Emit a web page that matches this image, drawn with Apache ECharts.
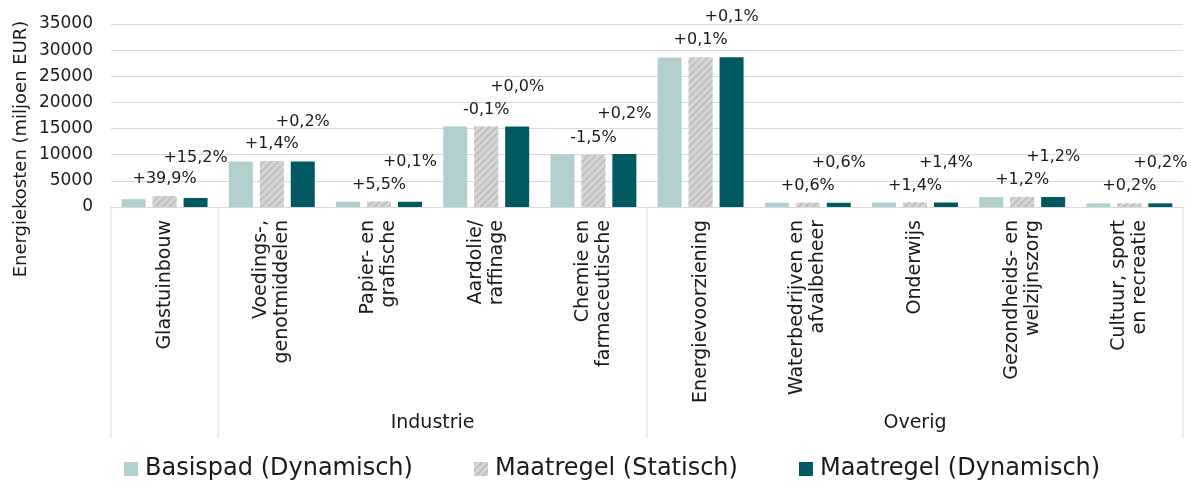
<!DOCTYPE html>
<html>
<head>
<meta charset="utf-8">
<script src="https://cdn.jsdelivr.net/npm/echarts@6/dist/echarts.min.js"></script>
<style>
html,body{margin:0;padding:0;background:#fff;}
#chart{width:1191px;height:482px;}
</style>
</head>
<body>
<div id="chart"></div>
<script>
const categories = ['Glastuinbouw','Voedings-,\ngenotmiddelen','Papier- en\ngrafische','Aardolie/\nraffinage','Chemie en\nfarmaceutische','Energievoorziening','Waterbedrijven en\nafvalbeheer','Onderwijs','Gezondheids- en\nwelzijnszorg','Cultuur, sport\nen recreatie'];
const basispad = [1500, 8700, 1000, 15400, 10100, 28600, 800, 850, 1900, 700];
const statisch = [2100, 8820, 1055, 15385, 9950, 28630, 805, 862, 1923, 701];
const dynamisch = [1728, 8717, 1001, 15400, 10120, 28630, 805, 862, 1923, 701];
const statLabels = ['+39,9%','+1,4%','+5,5%','-0,1%','-1,5%','+0,1%','+0,6%','+1,4%','+1,2%','+0,2%'];
const dynLabels = ['+15,2%','+0,2%','+0,1%','+0,0%','+0,2%','+0,1%','+0,6%','+1,4%','+1,2%','+0,2%'];
const groupNames = ['', 'Industrie', 'Overig'];
const groupSizes = [1, 4, 5];
const seriesNames = ['Basispad (Dynamisch)', 'Maatregel (Statisch)', 'Maatregel (Dynamisch)'];
const yTicks = [0, 35000, 5000];
const yAxisTitle = 'Energiekosten (miljoen EUR)';

const FONT = 'DejaVu Sans';
const TXT = '#1a1a1a';
const chart = echarts.init(document.getElementById('chart'), null, {renderer: 'canvas'});

const option = {
  animation: false,
  textStyle: {fontFamily: FONT},
  grid: {left: 111, right: 8, top: 24, bottom: 275, containLabel: false},
  legend: {
    left: 119, top: 452, icon: 'rect',
    itemWidth: 14, itemHeight: 14, itemGap: 61,
    textStyle: {fontFamily: FONT, fontSize: 24, color: TXT, padding: [0, 0, 0, 2]},
    data: seriesNames
  },
  xAxis: {
    type: 'category',
    data: categories,
    axisLine: {show: true, lineStyle: {color: '#d9d9d9', width: 1}},
    axisTick: {show: false},
    axisLabel: {rotate: 90, margin: 13, fontSize: 19, lineHeight: 21, color: TXT, fontFamily: FONT, interval: 0}
  },
  yAxis: {
    type: 'value',
    min: yTicks[0], max: yTicks[1], interval: yTicks[2],
    axisLine: {show: false},
    axisTick: {show: false},
    splitLine: {lineStyle: {color: '#d9d9d9', width: 1}},
    axisLabel: {fontSize: 17, color: TXT, fontFamily: FONT, margin: 18, formatter: v => String(v)}
  },
  series: [
    {
      name: seriesNames[0], type: 'bar', data: basispad,
      barWidth: 24, barGap: '29%',
      itemStyle: {color: '#b2cfcf'}
    },
    {
      name: seriesNames[1], type: 'bar', data: statisch,
      barWidth: 24, barGap: '29%',
      itemStyle: {
        color: '#d6d6d6',
        decal: {symbol: 'rect', symbolSize: 1, dashArrayX: [[1, 0]], dashArrayY: [2, 3], rotation: -Math.PI / 4, color: '#bfbfbf'}
      },
      label: {show: true, position: 'top', distance: 9, fontSize: 16, color: TXT, fontFamily: FONT,
        formatter: p => statLabels[p.dataIndex]}
    },
    {
      name: seriesNames[2], type: 'bar', data: dynamisch,
      barWidth: 24, barGap: '29%',
      itemStyle: {color: '#005961'},
      label: {show: true, position: 'top', distance: 32, fontSize: 16, color: TXT, fontFamily: FONT,
        formatter: p => dynLabels[p.dataIndex]}
    }
  ]
};
chart.setOption(option);

// Group dividers and group labels derived from the category axis scale
function drawGroups() {
  const c0 = chart.convertToPixel({xAxisIndex: 0}, 0);
  const c1 = chart.convertToPixel({xAxisIndex: 0}, 1);
  const band = c1 - c0;
  const y0 = chart.convertToPixel({yAxisIndex: 0}, 0);
  const elements = [];
  let start = 0;
  const edge = i => c0 + (i - 0.5) * band;
  elements.push({type: 'line', shape: {x1: edge(0), y1: y0, x2: edge(0), y2: y0 + 231}, style: {stroke: '#d9d9d9', lineWidth: 1}, silent: true});
  groupSizes.forEach((n, gi) => {
    const end = start + n;
    elements.push({type: 'line', shape: {x1: edge(end), y1: y0, x2: edge(end), y2: y0 + 231}, style: {stroke: '#d9d9d9', lineWidth: 1}, silent: true});
    if (groupNames[gi]) {
      elements.push({type: 'text', x: (edge(start) + edge(end)) / 2, y: y0 + 216,
        style: {text: groupNames[gi], font: '19px "' + FONT + '"', fill: TXT, textAlign: 'center', textVerticalAlign: 'middle'}, silent: true});
    }
    start = end;
  });
  elements.push({type: 'text', x: 21, y: 149, rotation: Math.PI / 2,
    style: {text: yAxisTitle, font: '18px "' + FONT + '"', fill: TXT, textAlign: 'center', textVerticalAlign: 'middle'}, silent: true});
  chart.setOption({graphic: {elements: elements}});
}
drawGroups();
</script>
</body>
</html>
